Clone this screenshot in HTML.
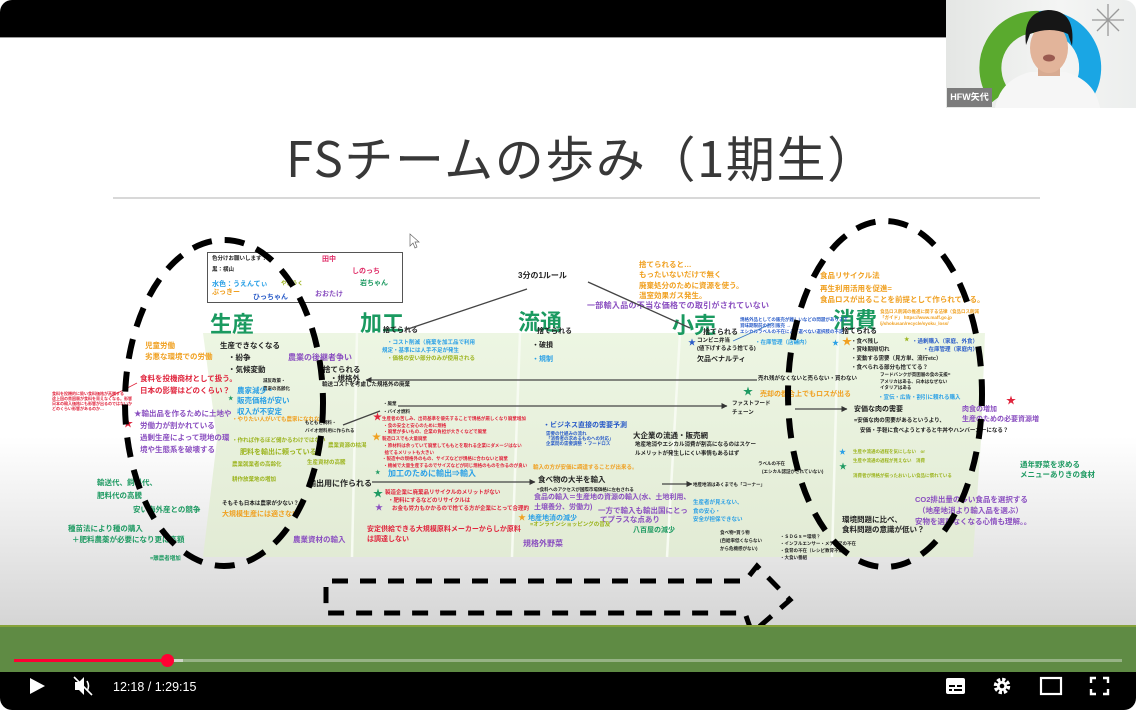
<!DOCTYPE html>
<html><head><meta charset="utf-8">
<style>
html,body{margin:0;padding:0;width:1136px;height:710px;overflow:hidden;background:#fff;}
#root{position:relative;width:1136px;height:710px;overflow:hidden;background:#fff;}
.abs{position:absolute;}
.t{position:absolute;white-space:nowrap;font-family:"Liberation Sans","Noto Sans CJK JP",sans-serif;font-weight:bold;font-size:7.5px;line-height:1;color:#222;}
.s{font-size:5.5px;}
.xs{font-size:4.5px;}
.m{font-size:7px;}
.h{font-size:22px;color:#1a9a60;font-family:"Noto Sans CJK JP",sans-serif;}
.bk{color:#222}.rd{color:#e0243c}.or{color:#f0a020}.pu{color:#8a4fc0}.lb{color:#2aa0e6}.db{color:#2a5cc8}.gr{color:#1e9a62}.yg{color:#9cb41e}.pk{color:#e0306a}
</style></head>
<body><div id="root">

<!-- slide background -->
<div class="abs" style="left:0;top:37px;width:1136px;height:589px;background:linear-gradient(to bottom,#fff 0px,#fff 400px,#e9e9e9 500px,#d5d5d5 589px);"></div>

<!-- top black bar -->
<div class="abs" style="left:0;top:0;width:946px;height:37px;background:#000;border-top-left-radius:12px;border-bottom:1px solid #9a9a9a;"></div>

<!-- webcam -->
<div class="abs" style="left:946px;top:0;width:190px;height:108px;background:linear-gradient(to right,#e4e6e4,#f4f5f4 60%,#eceeed);border-top-right-radius:12px;overflow:hidden;">
<svg width="190" height="108" viewBox="946 0 190 108" xmlns="http://www.w3.org/2000/svg">
<path d="M 1000 96 A 46 46 0 0 1 1040 22" fill="none" stroke="#5aaa2e" stroke-width="22"/>
<path d="M 1040 22 A 46 46 0 0 1 1082 94" fill="none" stroke="#1aa6e4" stroke-width="22"/>
<g stroke="#9a9a9a" stroke-width="1.3">
<line x1="1108" y1="4" x2="1108" y2="36"/><line x1="1092" y1="20" x2="1124" y2="20"/>
<line x1="1097" y1="9" x2="1119" y2="31"/><line x1="1119" y1="9" x2="1097" y2="31"/></g>
<path d="M995 108 Q1000 80 1030 72 L1065 72 Q1095 80 1100 108 Z" fill="#f6f6f6"/>
<rect x="1038" y="62" width="22" height="14" fill="#d8ab92"/>
<ellipse cx="1049" cy="48" rx="19" ry="25" fill="#e2b49a"/>
<path d="M1026 45 Q1022 12 1048 10 Q1076 10 1072 46 L1068 34 Q1050 26 1030 34 Z" fill="#161616"/>
<ellipse cx="1049" cy="58" rx="6" ry="3.5" fill="#9a5a50"/>
</svg>
<div class="t" style="left:1px;top:88px;width:45px;height:19px;background:#7c7c7c;color:#fff;font-size:9px;line-height:19px;text-align:center;">HFW矢代</div>
</div>

<!-- title -->
<div class="abs" style="left:286px;top:128px;font-family:'Noto Sans CJK JP',sans-serif;font-weight:400;font-size:49px;letter-spacing:1.6px;line-height:1.2;color:#383838;white-space:nowrap;">FSチームの歩み（1期生）</div>
<div class="abs" style="left:113px;top:197px;width:927px;height:2px;background:#d8d8d8;"></div>

<!-- green panels -->
<svg class="abs" style="left:0;top:0" width="1136" height="710" xmlns="http://www.w3.org/2000/svg">
<defs><linearGradient id="pg" x1="0" y1="0" x2="0" y2="1"><stop offset="0" stop-color="#edf6e3"/><stop offset="1" stop-color="#e2ebd5"/></linearGradient></defs>
<polygon points="203,333 985,333 981,440 973,557 203,557 217,440" fill="url(#pg)"/>
<g stroke="#f7fbf2" stroke-width="2.5">
<line x1="357" y1="333" x2="352" y2="557"/><line x1="520" y1="333" x2="512" y2="557"/>
<line x1="680" y1="333" x2="667" y2="557"/><line x1="838" y1="333" x2="832" y2="557"/></g>
<!-- legend box -->
<rect x="207.5" y="252.5" width="195" height="50" fill="#fff" stroke="#555" stroke-width="1"/>
<!-- cursor -->
<path d="M410 234 L410 246 L413 243 L415 248 L417 247 L415 242 L419 242 Z" fill="#fff" stroke="#666" stroke-width="0.7"/>
</svg>

<!-- legend texts -->
<div class="t s" style="left:212px;top:257px;">色分けお願いします！</div>
<div class="t s" style="left:212px;top:268px;">黒：横山</div>
<div class="t m pk" style="left:322px;top:256px;">田中</div>
<div class="t m pk" style="left:352px;top:268px;">しのっち</div>
<div class="t m gr" style="left:360px;top:280px;">岩ちゃん</div>
<div class="t m lb" style="left:212px;top:281px;">水色：うえんてぃ</div>
<div class="t m or" style="left:212px;top:289px;">ぷっきー</div>
<div class="t s yg" style="left:281px;top:282px;">やまうく</div>
<div class="t m pu" style="left:315px;top:291px;">おおたけ</div>
<div class="t m db" style="left:253px;top:294px;">ひっちゃん</div>

<!-- headers -->
<div class="t h" style="left:210px;top:312px;">生産</div>
<div class="t h" style="left:360px;top:311px;">加工</div>
<div class="t h" style="left:518px;top:310px;">流通</div>
<div class="t h" style="left:672px;top:313px;">小売</div>
<div class="t h" style="left:833px;top:308px;">消費</div>

<!-- 生産 -->
<div class="t or" style="left:145px;top:342px;">児童労働</div>
<div class="t or" style="left:145px;top:353px;">劣悪な環境での労働</div>
<div class="t" style="left:220px;top:342px;">生産できなくなる</div>
<div class="t" style="left:228px;top:354px;">・紛争</div>
<div class="t" style="left:228px;top:366px;">・気候変動</div>
<div class="t pu" style="font-size:8px;left:288px;top:354px;">農業の後継者争い</div>
<div class="t rd" style="left:140px;top:375px;">食料を投機商材として扱う。</div>
<div class="t rd" style="left:140px;top:387px;">日本の影響はどのくらい？</div>
<div class="t xs" style="left:263px;top:379px;">減反政策・</div>
<div class="t xs" style="left:263px;top:387px;">農家の高齢化</div>
<div class="t lb" style="left:237px;top:387px;">農家減少・</div>
<div class="t gr s" style="left:228px;top:397px;">★</div>
<div class="t lb" style="left:237px;top:397px;">販売価格が安い</div>
<div class="t lb" style="left:237px;top:408px;">収入が不安定</div>
<div class="t or s" style="left:232px;top:418px;">・やりたい人がいても農家になれない</div>
<div class="t pu" style="left:134px;top:410px;">★輸出品を作るために土地や</div>
<div class="t pu" style="left:140px;top:422px;">労働力が割かれている</div>
<div class="t pu" style="left:140px;top:434px;">過剰生産によって現地の環</div>
<div class="t pu" style="left:140px;top:446px;">境や生態系を破壊する</div>
<div class="t rd" style="font-size:10px;left:123px;top:420px;">★</div>
<div class="t xs" style="left:305px;top:421px;">もともと飼料・</div>
<div class="t xs" style="left:305px;top:429px;">バイオ燃料用に作られる</div>
<div class="t yg s" style="left:232px;top:439px;">・作れば作るほど儲かるわけではない</div>
<div class="t yg m" style="left:240px;top:449px;">肥料を輸出に頼っている</div>
<div class="t yg s" style="left:328px;top:444px;">農業資源の枯渇</div>
<div class="t yg s" style="left:232px;top:463px;">農業就業者の高齢化</div>
<div class="t yg s" style="left:307px;top:461px;">生産資材の高騰</div>
<div class="t yg s" style="left:232px;top:478px;">耕作放棄地の増加</div>
<div class="t" style="font-size:8px;left:308px;top:480px;">輸出用に作られる</div>
<div class="t gr" style="left:97px;top:479px;">輸送代、飼料代、</div>
<div class="t gr" style="left:97px;top:492px;">肥料代の高騰</div>
<div class="t gr" style="left:133px;top:506px;">安い海外産との競争</div>
<div class="t gr" style="left:68px;top:525px;">種苗法により種の購入</div>
<div class="t gr" style="left:72px;top:536px;">＋肥料農薬が必要になり更に高額</div>
<div class="t gr s" style="left:150px;top:557px;">=離農者増加</div>
<div class="t s" style="left:222px;top:502px;">そもそも日本は農家が少ない？</div>
<div class="t or m" style="left:222px;top:511px;">大規模生産には適さない</div>
<div class="t pu" style="left:293px;top:536px;">農業資材の輸入</div>
<!-- left tiny red -->
<div class="t rd" style="font-size:4px;left:52px;top:391px;line-height:5px;">食料を投機的に扱い食料価格が高騰する<br>途上国の貧困層が食料を買えなくなる。影響<br>日本の輸入価格にも影響が出るのではないか<br>どのくらい影響があるのか…</div>

<!-- 加工 -->
<div class="t m" style="left:383px;top:327px;">捨てられる</div>
<div class="t lb s" style="left:387px;top:341px;">・コスト削減（廃棄を加工品で利用</div>
<div class="t lb s" style="left:382px;top:349px;">規定・基準には人手不足が発生</div>
<div class="t yg s" style="left:387px;top:357px;">・価格の安い部分のみが使用される</div>
<div class="t" style="left:323px;top:366px;">捨てられる</div>
<div class="t" style="left:330px;top:375px;">・規格外</div>
<div class="t s" style="left:322px;top:383px;">輸送コストを考慮した規格外の廃棄</div>
<div class="t xs" style="left:383px;top:402px;">・廃棄</div>
<div class="t xs" style="left:383px;top:410px;">・バイオ燃料</div>
<div class="t rd" style="font-size:9px;left:373px;top:413px;">★</div>
<div class="t rd xs" style="left:382px;top:416px;line-height:6.7px;">生産者の苦しみ、出荷基準を優先することで規格が厳しくなり廃棄増加<br>&nbsp;・食の安全と安心のために規格<br>&nbsp;・廃棄が多いもの、企業の負担が大きくなどで廃棄<br>製造ロスでも大量廃棄<br>&nbsp;・原材料は余っていて廃棄してももとを取れる企業にダメージはない<br>&nbsp;&nbsp;捨てるメリットも大きい<br>・製造中の規格外のもの、サイズなどが規格に合わないと廃棄<br>&nbsp;・機械で大量生産するのでサイズなどが同じ規格のものを作るのが良い</div>
<div class="t or" style="font-size:9px;left:372px;top:433px;">★</div>
<div class="t gr s" style="left:375px;top:471px;">★</div>
<div class="t lb" style="font-size:8px;left:388px;top:470px;">加工のために輸出⇒輸入</div>
<div class="t gr" style="font-size:10px;left:373px;top:490px;">★</div>
<div class="t rd s" style="left:385px;top:491px;">製造企業に廃棄品リサイクルのメリットがない</div>
<div class="t rd s" style="left:388px;top:499px;">・肥料にするなどのリサイクルは</div>
<div class="t pu" style="font-size:8px;left:375px;top:504px;">★</div>
<div class="t rd s" style="left:392px;top:507px;">お金も労力もかかるので捨てる方が企業にとって合理的</div>
<div class="t rd m" style="left:367px;top:526px;">安定供給できる大規模原料メーカーからしか原料</div>
<div class="t rd m" style="left:367px;top:536px;">は調達しない</div>

<!-- 流通 -->
<div class="t" style="left:518px;top:272px;font-size:8px;">3分の1ルール</div>
<div class="t or" style="left:639px;top:261px;">捨てられると…</div>
<div class="t or" style="left:639px;top:271px;">もったいないだけで無く</div>
<div class="t or" style="left:639px;top:282px;">廃棄処分のために資源を使う。</div>
<div class="t or" style="left:639px;top:292px;">温室効果ガス発生。</div>
<div class="t pu" style="left:587px;top:302px;font-size:8px;letter-spacing:0.3px;">一部輸入品の不当な価格での取引がされていない</div>
<div class="t m" style="left:537px;top:328px;">捨てられる</div>
<div class="t m" style="left:532px;top:342px;">・破損</div>
<div class="t m lb" style="left:532px;top:356px;">・規制</div>
<div class="t db m" style="left:543px;top:422px;">・ビジネス直接の需要予測</div>
<div class="t db xs" style="left:546px;top:431px;line-height:5px;">需要の仕組みの流れ<br>「消費者の求めるものへの対応」<br>企業間の需要調整 ・フードロス</div>
<div class="t" style="left:633px;top:432px;">大企業の流通・販売網</div>
<div class="t s" style="left:635px;top:443px;">地産地消やエシカル消費が割高になるのはスケー</div>
<div class="t s" style="left:635px;top:452px;">ルメリットが発生しにくい事情もあるはず</div>
<div class="t or s" style="left:533px;top:466px;">輸入の方が安価に調達することが出来る。</div>
<div class="t" style="left:538px;top:476px;">食べ物の大半を輸入</div>
<div class="t xs" style="left:537px;top:488px;">=食料へのアクセスが国際市場価格に左右される</div>
<div class="t pu m" style="left:534px;top:494px;">食品の輸入＝生産地の資源の輸入(水、土地利用、</div>
<div class="t pu m" style="left:534px;top:504px;">土壌養分、労働力)</div>
<div class="t pu" style="left:598px;top:507px;">一方で輸入も輸出国にとっ</div>
<div class="t pu" style="left:600px;top:516px;">てプラスな点あり</div>
<div class="t or" style="left:518px;top:514px;font-size:8px;">★</div>
<div class="t lb m" style="left:528px;top:515px;">地産地消の減少</div>
<div class="t yg s" style="left:530px;top:523px;">=オンラインショッピングの普及</div>
<div class="t gr m" style="left:633px;top:527px;">八百屋の減少</div>
<div class="t pu" style="left:523px;top:540px;font-size:8px;">規格外野菜</div>

<!-- 小売 -->
<div class="t m" style="left:703px;top:329px;">捨てられる</div>
<div class="t db xs" style="left:740px;top:317px;line-height:6px;">規格外品としての販売が難しいなどの問題があります<br>賞味期限前の割引販売 →<br>エシカルラベルの不在により選べない選択肢の不足</div>
<div class="t db" style="left:688px;top:339px;font-size:8px;">★</div>
<div class="t s" style="left:697px;top:339px;">コンビニ弁当</div>
<div class="t s" style="left:697px;top:347px;">(値下げするよう捨てる)</div>
<div class="t m" style="left:697px;top:356px;">欠品ペナルティ</div>
<div class="t lb s" style="left:755px;top:341px;">・在庫管理（店舗内）</div>
<div class="t s" style="left:758px;top:377px;">売れ残がなくないと売らない・買わない</div>
<div class="t gr" style="left:743px;top:388px;font-size:10px;">★</div>
<div class="t or m" style="left:760px;top:391px;">売却の都合上でもロスが出る</div>
<div class="t s" style="left:732px;top:402px;">ファストフード</div>
<div class="t s" style="left:732px;top:411px;">チェーン</div>
<div class="t xs" style="left:758px;top:462px;">ラベルの不在</div>
<div class="t xs" style="left:762px;top:470px;">(エシカル認証がされていない)</div>
<div class="t xs" style="left:693px;top:483px;">地産地消はあくまでも「コーナー」</div>
<div class="t lb s" style="left:693px;top:501px;">生産者が見えない、</div>
<div class="t lb s" style="left:693px;top:510px;">食の安心・</div>
<div class="t lb s" style="left:693px;top:518px;">安全が担保できない</div>
<div class="t xs" style="left:720px;top:531px;">食べ物=買う物</div>
<div class="t xs" style="left:720px;top:539px;">(自給率低くならない</div>
<div class="t xs" style="left:720px;top:547px;">から危機感がない)</div>
<div class="t xs" style="left:780px;top:533px;line-height:7px;">・ＳＤＧｓ＝環境？<br>・インフルエンサー・メディアの不在<br>・食育の不在（レシピ教育不足）<br>・大食い番組</div>

<!-- 消費 -->
<div class="t or" style="left:820px;top:272px;">食品リサイクル法</div>
<div class="t or" style="left:820px;top:285px;">再生利用活用を促進=</div>
<div class="t or" style="left:820px;top:296px;">食品ロスが出ることを前提として作られている。</div>
<div class="t or xs" style="left:880px;top:309px;line-height:6px;">食品ロス削減の推進に関する法律（食品ロス削減<br>「ガイド」 https://www.maff.go.jp<br>/j/shokusan/recycle/syoku_loss/</div>
<div class="t m" style="left:842px;top:328px;">捨てられる</div>
<div class="t lb" style="left:832px;top:340px;font-size:7px;">★</div>
<div class="t or" style="left:842px;top:338px;font-size:10px;">★</div>
<div class="t s" style="left:851px;top:340px;">・食べ残し</div>
<div class="t s" style="left:851px;top:348px;">・賞味期限切れ</div>
<div class="t s" style="left:851px;top:357px;">・変動する需要（見方単、流行etc）</div>
<div class="t s" style="left:851px;top:366px;">・食べられる部分も捨ててる？</div>
<div class="t yg s" style="left:904px;top:338px;">★</div>
<div class="t db s" style="left:912px;top:340px;">・過剰購入（家庭、外食）</div>
<div class="t db s" style="left:923px;top:348px;">・在庫管理（家庭内）</div>
<div class="t xs" style="left:880px;top:372px;line-height:6.5px;">フードバンクが貧困層の食の支援=<br>アメリカはある、日本はなぜない<br>イタリアはある</div>
<div class="t lb s" style="left:878px;top:396px;">・宣伝・広告・割引に頼れる購入</div>
<div class="t m" style="left:854px;top:406px;">安価な肉の需要</div>
<div class="t s" style="left:854px;top:419px;">=安価な肉の需要があるというより、</div>
<div class="t s" style="left:860px;top:429px;">安価・手軽に食べようとすると牛丼やハンバーガーになる？</div>
<div class="t pu m" style="left:962px;top:406px;">肉食の増加</div>
<div class="t pu m" style="left:962px;top:416px;">生産のための必要資源増</div>
<div class="t rd" style="left:1006px;top:397px;font-size:10px;">★</div>
<div class="t lb" style="left:839px;top:449px;font-size:7px;">★</div>
<div class="t yg xs" style="left:853px;top:450px;">生産や流通の過程を気にしない　or</div>
<div class="t yg xs" style="left:853px;top:459px;">生産や流通の過程が見えない　消費</div>
<div class="t gr" style="left:839px;top:463px;font-size:8px;">★</div>
<div class="t yg xs" style="left:853px;top:474px;">消費者が規格が揃ったおいしい食品に慣れている</div>
<div class="t gr" style="left:1020px;top:461px;">通年野菜を求める</div>
<div class="t gr" style="left:1020px;top:471px;">メニューありきの食材</div>
<div class="t pu" style="left:915px;top:496px;">CO2排出量の多い食品を選択する</div>
<div class="t pu" style="left:918px;top:507px;">（地産地消より輸入品を選ぶ）</div>
<div class="t pu" style="left:915px;top:518px;">安物を選びなくなる心情も理解。。</div>
<div class="t" style="left:842px;top:516px;">環境問題に比べ、</div>
<div class="t" style="left:842px;top:526px;">食料問題の意識が低い？</div>

<!-- connectors, dashed shapes -->
<svg class="abs" style="left:0;top:0" width="1136" height="710" xmlns="http://www.w3.org/2000/svg">
<defs>
<marker id="ah" markerWidth="6" markerHeight="6" refX="5.5" refY="3" orient="auto" markerUnits="userSpaceOnUse"><path d="M0,0 L6,3 L0,6 z" fill="#333"/></marker>
</defs>
<g stroke="#444" stroke-width="1.3" fill="none">
<line x1="527" y1="289" x2="405" y2="330"/>
<line x1="588" y1="282" x2="690" y2="328"/>
<line x1="757" y1="380" x2="366" y2="380" marker-end="url(#ah)"/>
<line x1="398" y1="406" x2="727" y2="406" marker-end="url(#ah)"/>
<line x1="372" y1="482" x2="535" y2="482" marker-end="url(#ah)"/>
<line x1="662" y1="484" x2="692" y2="484" marker-end="url(#ah)"/>
<line x1="795" y1="409" x2="847" y2="409" marker-end="url(#ah)"/>
<line x1="343" y1="425" x2="380" y2="411"/>
<line x1="733" y1="341" x2="773" y2="323" stroke="#3a78c8" stroke-width="0.8"/>
<line x1="110" y1="397" x2="137" y2="383" stroke="#e0243c" stroke-width="0.8"/>
</g>
<ellipse cx="224" cy="403" rx="99" ry="163" fill="none" stroke="#000" stroke-width="6" stroke-dasharray="20 13"/>
<ellipse cx="885" cy="394" rx="97" ry="173" fill="none" stroke="#000" stroke-width="6" stroke-dasharray="20 13" stroke-dashoffset="8"/>
<path d="M326,597 L326,581 L745,581 L757,566 L790,600 L752,633 L745,613 L326,613 Z" fill="none" stroke="#000" stroke-width="5" stroke-dasharray="16 12" stroke-dashoffset="6"/>
</svg>

<!-- green band -->
<div class="abs" style="left:0;top:625px;width:1136px;height:47px;background:#5f8b44;border-top:2px solid #86a23a;box-sizing:border-box;"></div>
<!-- progress -->
<div class="abs" style="left:14px;top:659px;width:1108px;height:3px;background:rgba(255,255,255,0.35);"></div>
<div class="abs" style="left:167px;top:659px;width:16px;height:3px;background:#cfd6c8;"></div>
<div class="abs" style="left:14px;top:659px;width:153px;height:3px;background:#ff0033;"></div>
<div class="abs" style="left:161px;top:654px;width:13px;height:13px;border-radius:50%;background:#ff0033;"></div>

<!-- controls -->
<div class="abs" style="left:0;top:672px;width:1136px;height:38px;background:#000;border-bottom-left-radius:12px;border-bottom-right-radius:12px;"></div>
<svg class="abs" style="left:0;top:672px" width="1136" height="38" xmlns="http://www.w3.org/2000/svg">
<path d="M30 6 L45 14 L30 22 Z" fill="#fff"/>
<g fill="#fff"><path d="M75 10 L79 10 L84 5 L84 23 L79 18 L75 18 Z"/></g>
<g stroke="#fff" stroke-width="1.6" fill="none"><line x1="74" y1="5" x2="92" y2="23"/><path d="M87 9 Q90 14 87 19"/></g>
<text x="113" y="19" fill="#fff" font-family="Liberation Sans, sans-serif" font-size="12.5">12:18 / 1:29:15</text>
<rect x="946" y="6" width="19" height="16" rx="2" fill="#fff"/>
<g stroke="#000" stroke-width="2"><line x1="949" y1="14" x2="955" y2="14"/><line x1="957" y1="14" x2="962" y2="14"/><line x1="949" y1="18" x2="952" y2="18"/><line x1="954" y1="18" x2="962" y2="18"/></g>
<circle cx="1002" cy="14" r="6" fill="none" stroke="#fff" stroke-width="4.5" stroke-dasharray="3 1.7"/>
<circle cx="1002" cy="14" r="5" fill="#fff"/><circle cx="1002" cy="14" r="2.3" fill="#000"/>
<rect x="1041" y="6" width="20" height="16" fill="none" stroke="#fff" stroke-width="2.2"/>
<g stroke="#fff" stroke-width="2.4" fill="none">
<path d="M1091 11 L1091 6 L1096 6"/><path d="M1103 6 L1108 6 L1108 11"/>
<path d="M1091 17 L1091 22 L1096 22"/><path d="M1103 22 L1108 22 L1108 17"/></g>
</svg>

</div></body></html>
